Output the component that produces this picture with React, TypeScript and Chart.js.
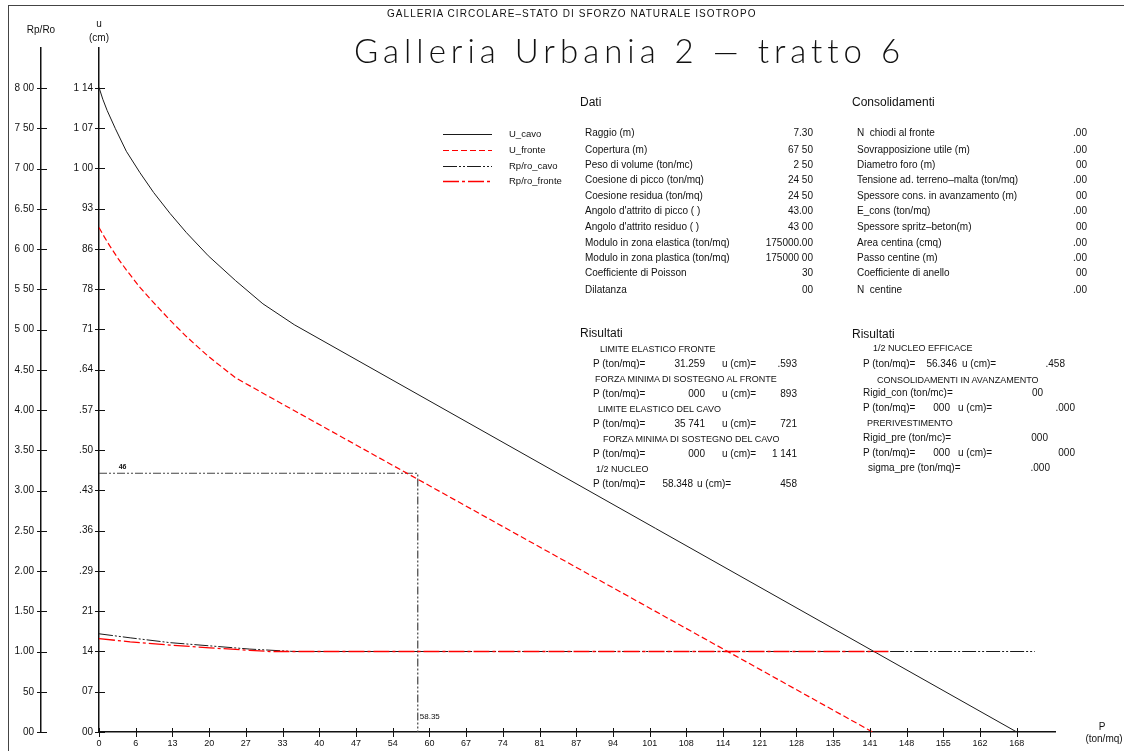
import React, { useEffect, useRef } from "react";
import { Chart, registerables } from "chart.js";

Chart.register(...registerables);

// ---------------- data ----------------
const P_CAVO = [0, 0.7, 1.5, 3, 5, 7.5, 10, 13, 16, 20, 25, 30, 35.741, 168];
const U_CAVO = [1.141, 1.12, 1.1, 1.068, 1.028, 0.99, 0.955, 0.918, 0.884, 0.843, 0.799, 0.758, 0.721, 0];
const P_FRONTE = [0, 1, 2, 3.5, 5, 7.5, 10, 13, 16, 20, 25, 31.259, 141.6];
const U_FRONTE = [0.893, 0.876, 0.86, 0.838, 0.818, 0.787, 0.76, 0.729, 0.7, 0.665, 0.627, 0.593, 0];
const P_RP_CAVO = [0, 5.7, 13, 20.3, 27.6, 35.741, 171.3];
const RP_CAVO = [1.22, 1.17, 1.11, 1.07, 1.03, 1.0, 1.0];
const P_RP_FRONTE = [0, 5.7, 13, 20.3, 27.6, 31.259, 144.5];
const RP_FRONTE = [1.16, 1.12, 1.08, 1.045, 1.015, 1.0, 1.0];
const NUCLEO_P = 58.35;
const NUCLEO_U = 0.458;
const NUCLEO_U_LABEL = "46";
const NUCLEO_P_LABEL = "58.35";

const X_TICKS = [0, 6.72, 13.44, 20.16, 26.88, 33.6, 40.32, 47.04, 53.76, 60.48, 67.2, 73.92, 80.64, 87.36, 94.08, 100.8, 107.52, 114.24, 120.96, 127.68, 134.4, 141.12, 147.84, 154.56, 161.28, 168];
const X_LABELS = ["0", "6", "13", "20", "27", "33", "40", "47", "54", "60", "67", "74", "81", "87", "94", "101", "108", "114", "121", "128", "135", "141", "148", "155", "162", "168"];
const U_TICKS = [0, 0.07125, 0.1425, 0.21375, 0.285, 0.35625, 0.4275, 0.49875, 0.57, 0.64125, 0.7125, 0.78375, 0.855, 0.92625, 0.9975, 1.06875, 1.14];
const U_LABELS = ["00", "07", "14", "21", ".29", ".36", ".43", ".50", ".57", ".64", "71", "78", "86", "93", "1 00", "1 07", "1 14"];
const RP_TICKS = [0, 0.5, 1, 1.5, 2, 2.5, 3, 3.5, 4, 4.5, 5, 5.5, 6, 6.5, 7, 7.5, 8];
const RP_LABELS = ["00", "50", "1.00", "1.50", "2.00", "2.50", "3.00", "3.50", "4.00", "4.50", "5 00", "5 50", "6 00", "6.50", "7 00", "7 50", "8 00"];

const SERIES_NAMES = ["U_cavo", "U_fronte", "Rp/ro_cavo", "Rp/ro_fronte"];

const DATI_LABELS = [
  "Raggio (m)",
  "Copertura (m)",
  "Peso di volume (ton/mc)",
  "Coesione di picco (ton/mq)",
  "Coesione residua (ton/mq)",
  "Angolo d'attrito di picco ( )",
  "Angolo d'attrito residuo ( )",
  "Modulo in zona elastica (ton/mq)",
  "Modulo in zona plastica (ton/mq)",
  "Coefficiente di Poisson",
  "Dilatanza",
];
const DATI_VALUES = ["7.30", "67 50", "2 50", "24 50", "24 50", "43.00", "43 00", "175000.00", "175000 00", "30", "00"];
const CONS_LABELS = [
  "N  chiodi al fronte",
  "Sovrapposizione utile (m)",
  "Diametro foro (m)",
  "Tensione ad. terreno\u2013malta (ton/mq)",
  "Spessore cons. in avanzamento (m)",
  "E_cons (ton/mq)",
  "Spessore spritz\u2013beton(m)",
  "Area centina (cmq)",
  "Passo centine (m)",
  "Coefficiente di anello",
  "N  centine",
];
const CONS_VALUES = [".00", ".00", "00", ".00", "00", ".00", "00", ".00", ".00", "00", ".00"];

const RES_L_HEADS = ["LIMITE ELASTICO FRONTE", "FORZA MINIMA DI SOSTEGNO AL FRONTE", "LIMITE ELASTICO DEL CAVO", "FORZA MINIMA DI SOSTEGNO DEL CAVO", "1/2 NUCLEO"];
const RES_L_P = ["31.259", "000", "35 741", "000", "58.348"];
const RES_L_U = [".593", "893", "721", "1 141", "458"];

const FONT = "'Liberation Sans', Arial, sans-serif";
const INK = "#111";
const RED = "#ff0000";

// ---------------- helpers ----------------
type TP = { x: number; y: number; size?: number; right?: boolean; children: React.ReactNode; style?: React.CSSProperties };
function T({ x, y, size = 10, right = false, children, style }: TP) {
  const base: React.CSSProperties = {
    position: "absolute",
    top: y - size / 2,
    fontFamily: FONT,
    fontSize: size,
    lineHeight: `${size}px`,
    color: INK,
    whiteSpace: "pre",
    ...style,
  };
  if (right) {
    return <div style={{ ...base, left: x - 300, width: 300, textAlign: "right" }}>{children}</div>;
  }
  return <div style={{ ...base, left: x }}>{children}</div>;
}

const decorPlugin = {
  id: "decor",
  afterDraw(chart: any) {
    const ctx: CanvasRenderingContext2D = chart.ctx;
    const xs = chart.scales.x;
    const ys = chart.scales.y;
    const rs = chart.scales.yR;
    ctx.save();
    ctx.strokeStyle = INK;
    ctx.lineWidth = 1;
    const line = (a: number, b: number, c: number, d: number) => {
      ctx.beginPath();
      ctx.moveTo(a, b);
      ctx.lineTo(c, d);
      ctx.stroke();
    };
    for (const t of xs.ticks) {
      const px = Math.round(xs.getPixelForValue(t.value)) + 0.5;
      line(px, xs.top - 4, px, xs.top + 5);
    }
    for (const t of ys.ticks) {
      const py = Math.round(ys.getPixelForValue(t.value)) + 0.5;
      line(ys.right - 4, py, ys.right + 6, py);
    }
    for (const t of rs.ticks) {
      const py = Math.round(rs.getPixelForValue(t.value)) + 0.5;
      line(rs.right - 4, py, rs.right + 6, py);
    }
    // axis titles
    ctx.fillStyle = INK;
    ctx.textBaseline = "middle";
    ctx.textAlign = "center";
    ctx.font = `10px ${FONT}`;
    ctx.fillText("Rp/Ro", rs.right, 30);
    ctx.fillText("u", ys.right, 24);
    ctx.fillText("(cm)", ys.right, 38);
    ctx.fillText("P", 1102, 727);
    ctx.fillText("(ton/mq)", 1104, 739);

    // legend from datasets
    const ds = chart.data.datasets;
    ctx.textAlign = "left";
    ctx.font = `9.5px ${FONT}`;
    const rows = [134, 150, 166, 181];
    let r = 0;
    for (const d of ds) {
      if (!SERIES_NAMES.includes(d.label)) continue;
      const yy = rows[r++] + 0.5;
      ctx.save();
      ctx.strokeStyle = d.borderColor;
      ctx.lineWidth = d.borderWidth;
      ctx.setLineDash(d.borderDash || []);
      line(443, yy, 492, yy);
      ctx.restore();
      ctx.fillStyle = INK;
      ctx.fillText(d.label, 509, yy);
    }

    // nucleo labels
    ctx.font = `bold 7px ${FONT}`;
    ctx.fillText(NUCLEO_U_LABEL, xs.getPixelForValue(3.6), ys.getPixelForValue(NUCLEO_U) - 6);
    ctx.font = `8px ${FONT}`;
    ctx.fillText(NUCLEO_P_LABEL, xs.getPixelForValue(NUCLEO_P) + 2, xs.top - 15);
    ctx.restore();
  },
};

const pts = (xs: number[], ys: number[]) => xs.map((x, i) => ({ x, y: ys[i] }));

export default function App() {
  const ref = useRef<HTMLCanvasElement | null>(null);

  useEffect(() => {
    if (!ref.current) return;
    const tickFont = { family: FONT, size: 10 };
    const chart = new Chart(ref.current, {
      type: "line",
      data: {
        datasets: [
          {
            label: SERIES_NAMES[0],
            data: pts(P_CAVO, U_CAVO),
            borderColor: "#1a1a1a",
            borderWidth: 1,
            pointRadius: 0,
            yAxisID: "y",
            order: 2,
          },
          {
            label: SERIES_NAMES[1],
            data: pts(P_FRONTE, U_FRONTE),
            borderColor: RED,
            borderDash: [6, 3],
            borderWidth: 1.2,
            pointRadius: 0,
            yAxisID: "y",
            order: 1,
          },
          {
            label: SERIES_NAMES[2],
            data: pts(P_RP_CAVO, RP_CAVO),
            borderColor: "#1a1a1a",
            borderDash: [14, 2, 2, 2, 2, 2],
            borderWidth: 1,
            pointRadius: 0,
            yAxisID: "yR",
            order: 4,
          },
          {
            label: SERIES_NAMES[3],
            data: pts(P_RP_FRONTE, RP_FRONTE),
            borderColor: RED,
            borderDash: [16, 3, 3, 3],
            borderWidth: 1.3,
            pointRadius: 0,
            yAxisID: "yR",
            order: 0,
          },
          {
            label: "nucleo",
            data: [
              { x: 0, y: NUCLEO_U },
              { x: NUCLEO_P, y: NUCLEO_U },
              { x: NUCLEO_P, y: 0 },
            ],
            borderColor: "#444",
            borderDash: [8, 2, 2, 2, 2, 2],
            borderWidth: 1.2,
            pointRadius: 0,
            yAxisID: "y",
            order: 5,
          },
        ],
      },
      options: {
        responsive: false,
        animation: false,
        events: [],
        layout: { padding: { left: 0, top: 48, right: 69, bottom: 0 } },
        plugins: { legend: { display: false }, tooltip: { enabled: false }, title: { display: false } },
        elements: { line: { tension: 0, borderCapStyle: "butt" } },
        scales: {
          x: {
            type: "linear",
            position: "bottom",
            min: 0,
            max: 175,
            grid: { display: false, drawTicks: false },
            border: { display: true, color: INK, width: 1.5 },
            afterBuildTicks: (s: any) => {
              s.ticks = X_TICKS.map((v) => ({ value: v }));
            },
            afterFit: (s: any) => {
              s.height = 19;
            },
            ticks: {
              autoSkip: false,
              maxRotation: 0,
              padding: 6,
              font: { family: FONT, size: 9 },
              color: INK,
              callback: (_v: any, i: number) => X_LABELS[i],
            },
          },
          y: {
            type: "linear",
            position: "left",
            weight: 0,
            min: 0,
            max: 1.2108,
            grid: { display: false, drawTicks: false },
            border: { display: true, color: INK, width: 1.5 },
            afterBuildTicks: (s: any) => {
              s.ticks = U_TICKS.map((v) => ({ value: v }));
            },
            afterFit: (s: any) => {
              s.width = 58;
            },
            ticks: {
              autoSkip: false,
              padding: 6,
              font: tickFont,
              color: INK,
              callback: (_v: any, i: number) => U_LABELS[i],
            },
          },
          yR: {
            type: "linear",
            position: "left",
            weight: 1,
            min: 0,
            max: 8.497,
            grid: { display: false, drawTicks: false },
            border: { display: true, color: INK, width: 1.5 },
            afterBuildTicks: (s: any) => {
              s.ticks = RP_TICKS.map((v) => ({ value: v }));
            },
            afterFit: (s: any) => {
              s.width = 41;
            },
            ticks: {
              autoSkip: false,
              padding: 7,
              font: tickFont,
              color: INK,
              callback: (_v: any, i: number) => RP_LABELS[i],
            },
          },
        },
      } as any,
      plugins: [decorPlugin],
    });
    return () => chart.destroy();
  }, []);

  const datiRows = [133, 150, 165, 180, 196, 211, 227, 243, 258, 273, 290];

  return (
    <div style={{ position: "fixed", left: 0, top: 0, width: 1124, height: 751, background: "#fff", overflow: "hidden" }}>
      <canvas ref={ref} width={1124} height={751} style={{ position: "absolute", left: 0, top: 0, width: 1124, height: 751 }} />
      {/* frame */}
      <div style={{ position: "absolute", left: 8, top: 5, width: 1200, height: 800, borderLeft: "1.5px solid #444", borderTop: "1.5px solid #444" }} />

      <T x={387} y={14} size={10} style={{ letterSpacing: 1.05 }}>GALLERIA CIRCOLARE–STATO DI SFORZO NATURALE ISOTROPO</T>
      <T x={354} y={50} size={33} style={{ fontFamily: "Lato, 'Liberation Sans', sans-serif", fontWeight: 300, letterSpacing: 5 }}>
        Galleria Urbania 2 — tratto 6
      </T>

      <T x={580} y={102} size={12}>Dati</T>
      <T x={852} y={102} size={12}>Consolidamenti</T>
      {DATI_LABELS.map((l, i) => (
        <T key={"dl" + i} x={585} y={datiRows[i]}>{l}</T>
      ))}
      {DATI_VALUES.map((v, i) => (
        <T key={"dv" + i} x={813} y={datiRows[i]} right>{v}</T>
      ))}
      {CONS_LABELS.map((l, i) => (
        <T key={"cl" + i} x={857} y={datiRows[i]}>{l}</T>
      ))}
      {CONS_VALUES.map((v, i) => (
        <T key={"cv" + i} x={1087} y={datiRows[i]} right>{v}</T>
      ))}

      <T x={580} y={333} size={12}>Risultati</T>
      {RES_L_HEADS.map((h, i) => (
        <T key={"rh" + i} x={[600, 595, 598, 603, 596][i]} y={349 + i * 30} size={9}>{h}</T>
      ))}
      {RES_L_P.map((p, i) => (
        <React.Fragment key={"rp" + i}>
          <T x={593} y={364 + i * 30}>P (ton/mq)=</T>
          <T x={i === 4 ? 693 : 705} y={364 + i * 30} right>{p}</T>
          <T x={i === 4 ? 697 : 722} y={364 + i * 30}>u (cm)=</T>
          <T x={797} y={364 + i * 30} right>{RES_L_U[i]}</T>
        </React.Fragment>
      ))}

      <T x={852} y={334} size={12}>Risultati</T>
      <T x={873} y={348} size={9}>1/2 NUCLEO EFFICACE</T>
      <T x={863} y={364}>P (ton/mq)=</T>
      <T x={957} y={364} right>56.346</T>
      <T x={962} y={364}>u (cm)=</T>
      <T x={1065} y={364} right>.458</T>
      <T x={877} y={380} size={9}>CONSOLIDAMENTI IN AVANZAMENTO</T>
      <T x={863} y={393}>Rigid_con (ton/mc)=</T>
      <T x={1043} y={393} right>00</T>
      <T x={863} y={408}>P (ton/mq)=</T>
      <T x={950} y={408} right>000</T>
      <T x={958} y={408}>u (cm)=</T>
      <T x={1075} y={408} right>.000</T>
      <T x={867} y={423} size={9}>PRERIVESTIMENTO</T>
      <T x={863} y={438}>Rigid_pre (ton/mc)=</T>
      <T x={1048} y={438} right>000</T>
      <T x={863} y={453}>P (ton/mq)=</T>
      <T x={950} y={453} right>000</T>
      <T x={958} y={453}>u (cm)=</T>
      <T x={1075} y={453} right>000</T>
      <T x={868} y={468}>sigma_pre (ton/mq)=</T>
      <T x={1050} y={468} right>.000</T>
    </div>
  );
}
